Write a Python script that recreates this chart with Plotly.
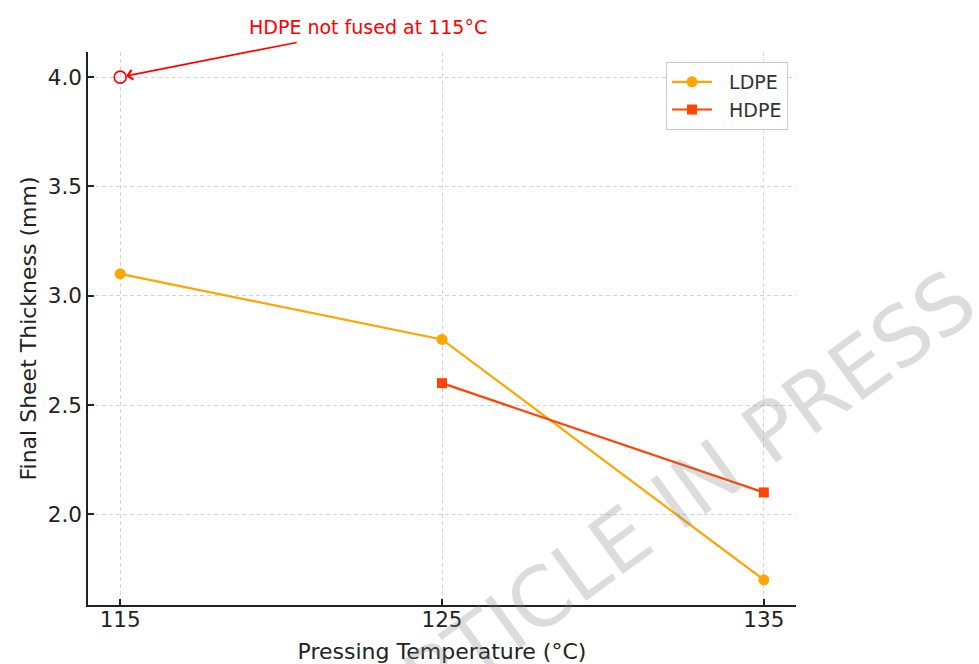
import plotly.graph_objects as go

# Data
temps_ldpe = [115, 125, 135]
ldpe_thickness = [3.1, 2.8, 1.7]
temps_hdpe = [125, 135]
hdpe_thickness = [2.6, 2.1]
unfused_temp = [115]
unfused_value = [4.0]
x_ticks = [115, 125, 135]
y_ticks = [2.0, 2.5, 3.0, 3.5, 4.0]

FONT = "DejaVu Sans"
fig = go.Figure()

fig.add_trace(go.Scatter(
    x=temps_ldpe, y=ldpe_thickness, name="  LDPE", mode="lines+markers",
    line=dict(color="#FFA500", width=2.2),
    marker=dict(symbol="circle", size=11, color="#FFA500"),
))
fig.add_trace(go.Scatter(
    x=temps_hdpe, y=hdpe_thickness, name="  HDPE", mode="lines+markers",
    line=dict(color="#FF4500", width=2.2),
    marker=dict(symbol="square", size=10, color="#FF4500"),
))
fig.add_trace(go.Scatter(
    x=unfused_temp, y=unfused_value, mode="markers", showlegend=False,
    marker=dict(symbol="circle-open", size=12, color="red", line=dict(width=1.6, color="red")),
))

fig.add_annotation(
    x=unfused_temp[0], y=unfused_value[0], xref="x", yref="y",
    ax=178, ay=-35, text="", showarrow=True,
    arrowhead=4, arrowsize=1.2, arrowwidth=1.6, arrowcolor="red", standoff=6,
)
fig.add_annotation(
    x=0.3955, y=1.045, xref="paper", yref="paper", text="HDPE not fused at 115°C",
    showarrow=False, xanchor="center", yanchor="middle",
    font=dict(family=FONT, size=19, color="red"),
)
fig.add_annotation(
    x=0.8178, y=0.179, xref="paper", yref="paper", text="ARTICLE IN PRESS",
    showarrow=False, xanchor="center", yanchor="middle", textangle=-36,
    font=dict(family=FONT, size=82, color="rgba(128,128,128,0.28)"),
)

axis_common = dict(
    showline=True, linecolor="#222", linewidth=1.5, mirror=False,
    ticks="inside", ticklen=6, tickwidth=1.5, tickcolor="#222",
    showgrid=True, gridcolor="#d3d3d3", gridwidth=1, griddash="4px,3px",
    zeroline=False, tickfont=dict(family=FONT, size=21.5, color="#222"),
)

fig.update_xaxes(
    range=[114, 136], tickvals=x_ticks, ticktext=[str(t) for t in x_ticks],
    ticklabelstandoff=-6,
    title=dict(text="Pressing Temperature (°C)", font=dict(family=FONT, size=22, color="#222"), standoff=13),
    **axis_common,
)
fig.update_yaxes(
    range=[1.585, 4.115], tickvals=y_ticks, ticktext=[f"{v:.1f}" for v in y_ticks],
    title=dict(text="Final Sheet Thickness (mm)", font=dict(family=FONT, size=22, color="#222"), standoff=5),
    **axis_common,
)

fig.update_layout(
    width=979, height=664, autosize=False,
    margin=dict(l=88, r=183, t=52, b=59, autoexpand=False),
    plot_bgcolor="white", paper_bgcolor="white",
    font=dict(family=FONT, color="#222"),
    legend=dict(
        x=(666 - 88) / 708, y=0.982, xanchor="left", yanchor="top",
        bgcolor="white", bordercolor="#cccccc", borderwidth=1,
        font=dict(family=FONT, size=19, color="#333"),
        itemwidth=40, tracegroupgap=0,
    ),
)

fig.write_html("out.html")
